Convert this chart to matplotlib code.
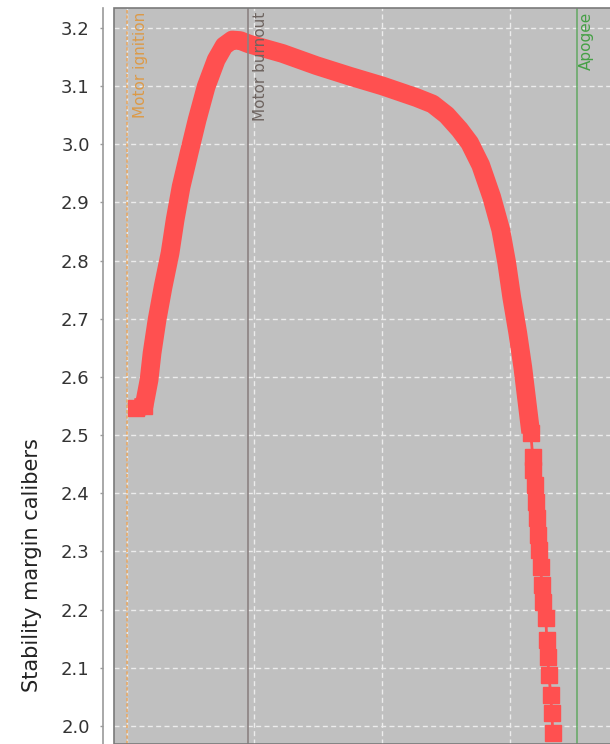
import matplotlib
matplotlib.use("Agg")
import matplotlib.pyplot as plt
from matplotlib.patches import Rectangle

# flight data (time in s, stability margin in calibers)
time = [0.149, 0.275, 0.353, 0.400, 0.478, 0.573, 0.682, 0.761, 0.855, 0.980,
        1.106, 1.247, 1.404, 1.529, 1.655, 1.780, 1.922, 2.439, 2.973, 3.490,
        4.008, 4.541, 4.792, 5.012, 5.216, 5.373, 5.545, 5.718, 5.859, 5.953,
        6.031, 6.125, 6.204, 6.267, 6.329,
        6.361, 6.369, 6.392, 6.408, 6.424, 6.439, 6.455, 6.486, 6.502, 6.518,
        6.565, 6.580, 6.596, 6.612, 6.643, 6.659, 6.675]
stability = [2.547, 2.550, 2.595, 2.641, 2.698, 2.755, 2.813, 2.870, 2.927, 2.985,
             3.042, 3.099, 3.145, 3.169, 3.179, 3.178, 3.172, 3.156, 3.135, 3.117,
             3.100, 3.080, 3.069, 3.050, 3.025, 3.002, 2.964, 2.909, 2.853, 2.796,
             2.737, 2.676, 2.617, 2.560, 2.504,
             2.462, 2.440, 2.414, 2.385, 2.357, 2.328, 2.303, 2.274, 2.242, 2.213,
             2.186, 2.148, 2.119, 2.088, 2.053, 2.022, 1.988]
n_dense = 35  # samples packed so tightly they merge into one band

# flight events
event_names = ["Motor ignition", "Motor burnout", "Apogee"]
event_times = [0.0, 1.906, 7.05]
event_line_colors = ["#e6a866", "#8c8282", "#6aaa6a"]
event_text_colors = ["#dc9a48", "#6e6460", "#45a045"]
event_styles = [(0, (2, 1.2)), "-", "-"]
event_offsets = [0.22, 0.19, 0.15]

y_ticks = [2.0, 2.1, 2.2, 2.3, 2.4, 2.5, 2.6, 2.7, 2.8, 2.9, 3.0, 3.1, 3.2]
x_grid = [0, 2, 4, 6]

red = "#ff5050"

fig = plt.figure(figsize=(6.1, 7.44), dpi=100)
ax = fig.add_axes([114 / 610, 0, 1 - 114 / 610, 736 / 744])
ax.set_facecolor("#c0c0c0")
ax.set_xlim(-0.196, 7.57)
ax.set_ylim(1.969, 3.234)

# grid
ax.set_xticks(x_grid)
ax.set_yticks(y_ticks)
ax.set_yticklabels([f"{v:.1f}" for v in y_ticks])
ax.grid(True, color="#ececec", lw=1.0, linestyle=(0, (3.6, 2.4)))
ax.set_axisbelow(True)
ax.tick_params(axis="x", length=0, labelbottom=False)
ax.tick_params(axis="y", length=2.5, width=1, color="#9a9a9a", pad=7,
               labelsize=13, labelcolor="#333333")

for s in ["right", "bottom", "top"]:
    ax.spines[s].set_visible(False)
ax.spines["left"].set_position(("outward", 8))
ax.spines["left"].set_color("#9a9a9a")
ax.spines["left"].set_linewidth(1.2)

# plot frame
ax.add_patch(Rectangle((0, 0), 1.2, 1, transform=ax.transAxes, fill=False,
                       edgecolor="#7a7a7a", lw=1.2, clip_on=False, zorder=7))

# stability curve: dense band, then the separate samples of the tail
ax.plot(time[:n_dense], stability[:n_dense], color=red, lw=13.5,
        solid_joinstyle="round", solid_capstyle="butt", zorder=4)
ax.plot(time[:2], stability[:2], color=red, lw=0, marker="s", ms=11,
        mfc=red, mec=red, zorder=4)
ax.plot(time[n_dense - 1:], stability[n_dense - 1:], color=red, lw=2,
        marker="s", ms=11, mfc=red, mec=red, zorder=4)

# event markers, drawn over the curve
for name, t, lc, tc, ls, off in zip(event_names, event_times, event_line_colors,
                                    event_text_colors, event_styles, event_offsets):
    ax.axvline(t, color=lc, lw=1.2, linestyle=ls, zorder=5)
    ax.text(t + off, 3.228, name, rotation=90, ha="center", va="top",
            fontsize=11, color=tc, zorder=6)

ax.set_ylabel("Stability margin calibers", fontsize=15, color="#222222")
ax.yaxis.set_label_coords(-0.145, 0.243)

fig.savefig("out.png", dpi=100)
